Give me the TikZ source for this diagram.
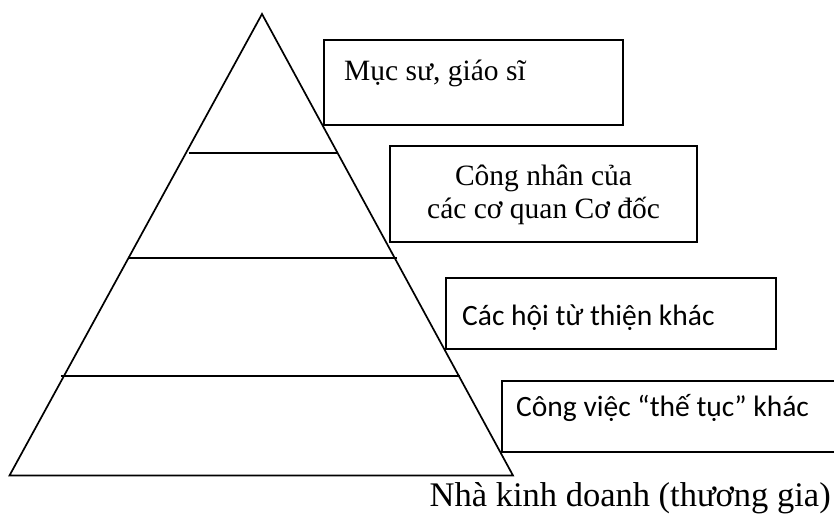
\documentclass[tikz,border=0pt]{standalone}
\usepackage{fontspec}
\setmainfont{Liberation Serif}
\newfontfamily\calibri{Carlito}
\begin{document}
\begin{tikzpicture}[x=1pt,y=-1pt,
  edge/.style={line width=1.7pt, line join=miter},
  boxline/.style={line width=1.7pt},
  lbl/.style={anchor=base west, inner sep=0pt, font=\fontsize{29.5}{33}\selectfont},
  lblc/.style={anchor=base, inner sep=0pt, font=\fontsize{29.5}{33}\selectfont},
  lbls/.style={anchor=base west, inner sep=0pt, font=\calibri\fontsize{29.5}{33}\selectfont},
  lblbig/.style={anchor=base west, inner sep=0pt, font=\fontsize{34.5}{38}\selectfont}]
\useasboundingbox (0,0) rectangle (834,515);
% pyramid
\coordinate (apex) at (262,14);
\coordinate (bl) at (9.5,475.5);
\coordinate (br) at (513,475.5);
\draw[edge] (apex) -- (bl) -- (br) -- cycle;
\coordinate (l1a) at (188.7,152.7); \coordinate (l1b) at (336.7,152.7);
\coordinate (l2a) at (128,258); \coordinate (l2b) at (396.7,258);
\coordinate (l3a) at (60.7,376); \coordinate (l3b) at (460,376);
\draw[edge] (l1a) -- (l1b);
\draw[edge] (l2a) -- (l2b);
\draw[edge] (l3a) -- (l3b);
% boxes
\draw[boxline] (324,40) rectangle (623.3,125);
\draw[boxline] (390,146) rectangle (697.3,242.3);
\draw[boxline] (445.7,278.3) rectangle (775.7,349.3);
\draw[boxline] (840,381) -- (502.3,381) -- (502.3,452) -- (840,452);
% labels
\node[lbl] (t1) at (344,80.5) {Mục sư, giáo sĩ};
\node[lblc] (t2a) at (543.5,185) {Công nhân của};
\node[lblc] (t2b) at (543.5,218) {các cơ quan Cơ đốc};
\node[lbls] (t3) at (462,325) {Các hội từ thiện khác};
\node[lbls] (t4) at (516,416) {Công việc “thế tục” khác};
\node[lblbig] (t5) at (429.5,506) {Nhà kinh doanh (thương gia)};
\end{tikzpicture}
\end{document}
